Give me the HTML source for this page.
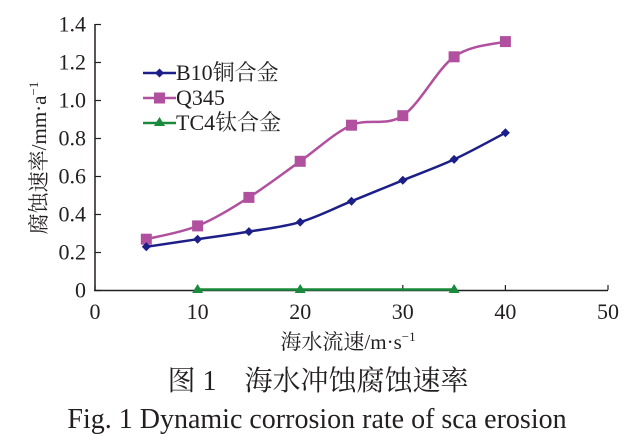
<!DOCTYPE html><html><head><style>body{margin:0;background:#fff}svg{display:block}text{font-family:"Liberation Serif","Noto Serif CJK SC",serif;fill:#231f20}</style></head><body>
<svg id="s" width="642" height="446" xmlns="http://www.w3.org/2000/svg">
<g stroke="#231f20" stroke-width="1.5" fill="none">
<line x1="95" y1="24" x2="95" y2="291"/><line x1="94" y1="290.5" x2="608" y2="290.5"/>
</g>
<g id="ticks" stroke="#231f20" stroke-width="1.2"></g>
<g font-size="22" text-anchor="end" id="yl"></g>
<g font-size="22" text-anchor="middle" id="xl"></g>
<g id="series"></g>
<g font-size="22">
<line x1="143" y1="73" x2="176" y2="73" stroke="#1c1f87" stroke-width="2.5"/><path d="M159.5 68.5l4.5 4.5-4.5 4.5-4.5-4.5z" fill="#1c1f87"/>
<text x="176" y="80">B10铜合金</text>
<line x1="143" y1="98" x2="176" y2="98" stroke="#b0509e" stroke-width="2.5"/><rect x="154" y="92.5" width="11" height="11" fill="#b0509e"/>
<text x="176" y="105">Q345</text>
<line x1="143" y1="123" x2="176" y2="123" stroke="#1a8a3c" stroke-width="2.5"/><path d="M159.5 117l5.5 9h-11z" fill="#1a8a3c"/>
<text x="176" y="130">TC4钛合金</text>
</g>
<text x="348" y="349" font-size="21" text-anchor="middle">海水流速/m·s<tspan font-size="13" dy="-8">−1</tspan></text>
<text transform="translate(46 158) rotate(-90)" font-size="21" text-anchor="middle">腐蚀速率/mm·a<tspan font-size="13" dy="-8">−1</tspan></text>
<text x="318" y="390" font-size="28" text-anchor="middle">图 1　海水冲蚀腐蚀速率</text>
<text x="317" y="428" font-size="28" text-anchor="middle">Fig. 1 Dynamic corrosion rate of sca erosion</text>
</svg>
<script>
const NS="http://www.w3.org/2000/svg";
const X=v=>95+v*10.26, Y=v=>290.5-v*190;
function el(t,a,p){const e=document.createElementNS(NS,t);for(const k in a)e.setAttribute(k,a[k]);p.appendChild(e);return e;}
const tk=document.getElementById('ticks'),yl=document.getElementById('yl'),xl=document.getElementById('xl');
for(let i=0;i<=7;i++){const y=Y(i*0.2);el('line',{x1:95,x2:101,y1:y,y2:y},tk);el('text',{x:86,y:y+7},yl).textContent=i==0?'0':(i*0.2).toFixed(1);}
for(let i=0;i<=5;i++){const x=X(i*10);el('line',{x1:x,x2:x,y1:290,y2:285},tk);el('text',{x:x,y:319},xl).textContent=i*10;}
function smooth(p){let d='M'+p[0].join(' ');for(let i=0;i<p.length-1;i++){const p0=p[i-1]||p[i],p1=p[i],p2=p[i+1],p3=p[i+2]||p2;const t=6;d+=` C${p1[0]+(p2[0]-p0[0])/t} ${p1[1]+(p2[1]-p0[1])/t} ${p2[0]-(p3[0]-p1[0])/t} ${p2[1]-(p3[1]-p1[1])/t} ${p2[0]} ${p2[1]}`;}return d;}
const sg=document.getElementById('series');
const xs=[5,10,15,20,25,30,35,40];
const b=[.23,.27,.31,.36,.47,.58,.69,.83].map((v,i)=>[X(xs[i]),Y(v)]);
const q=[.27,.34,.49,.68,.87,.92,1.23,1.31].map((v,i)=>[X(xs[i]),Y(v)]);
el('path',{d:smooth(q),fill:'none',stroke:'#b0509e','stroke-width':2.5},sg);
el('path',{d:smooth(b),fill:'none',stroke:'#1c1f87','stroke-width':2.5},sg);
q.forEach(p=>el('rect',{x:p[0]-5.5,y:p[1]-5.5,width:11,height:11,fill:'#b0509e'},sg));
b.forEach(p=>el('path',{d:`M${p[0]} ${p[1]-4.5}l4.5 4.5-4.5 4.5-4.5-4.5z`,fill:'#1c1f87'},sg));
el('line',{x1:X(10),x2:X(35),y1:289.5,y2:289.5,stroke:'#1a8a3c','stroke-width':2.5},sg);
[10,20,35].forEach(v=>el('path',{d:`M${X(v)} ${284}l5.5 9h-11z`,fill:'#1a8a3c'},sg));
</script>
</body></html>
